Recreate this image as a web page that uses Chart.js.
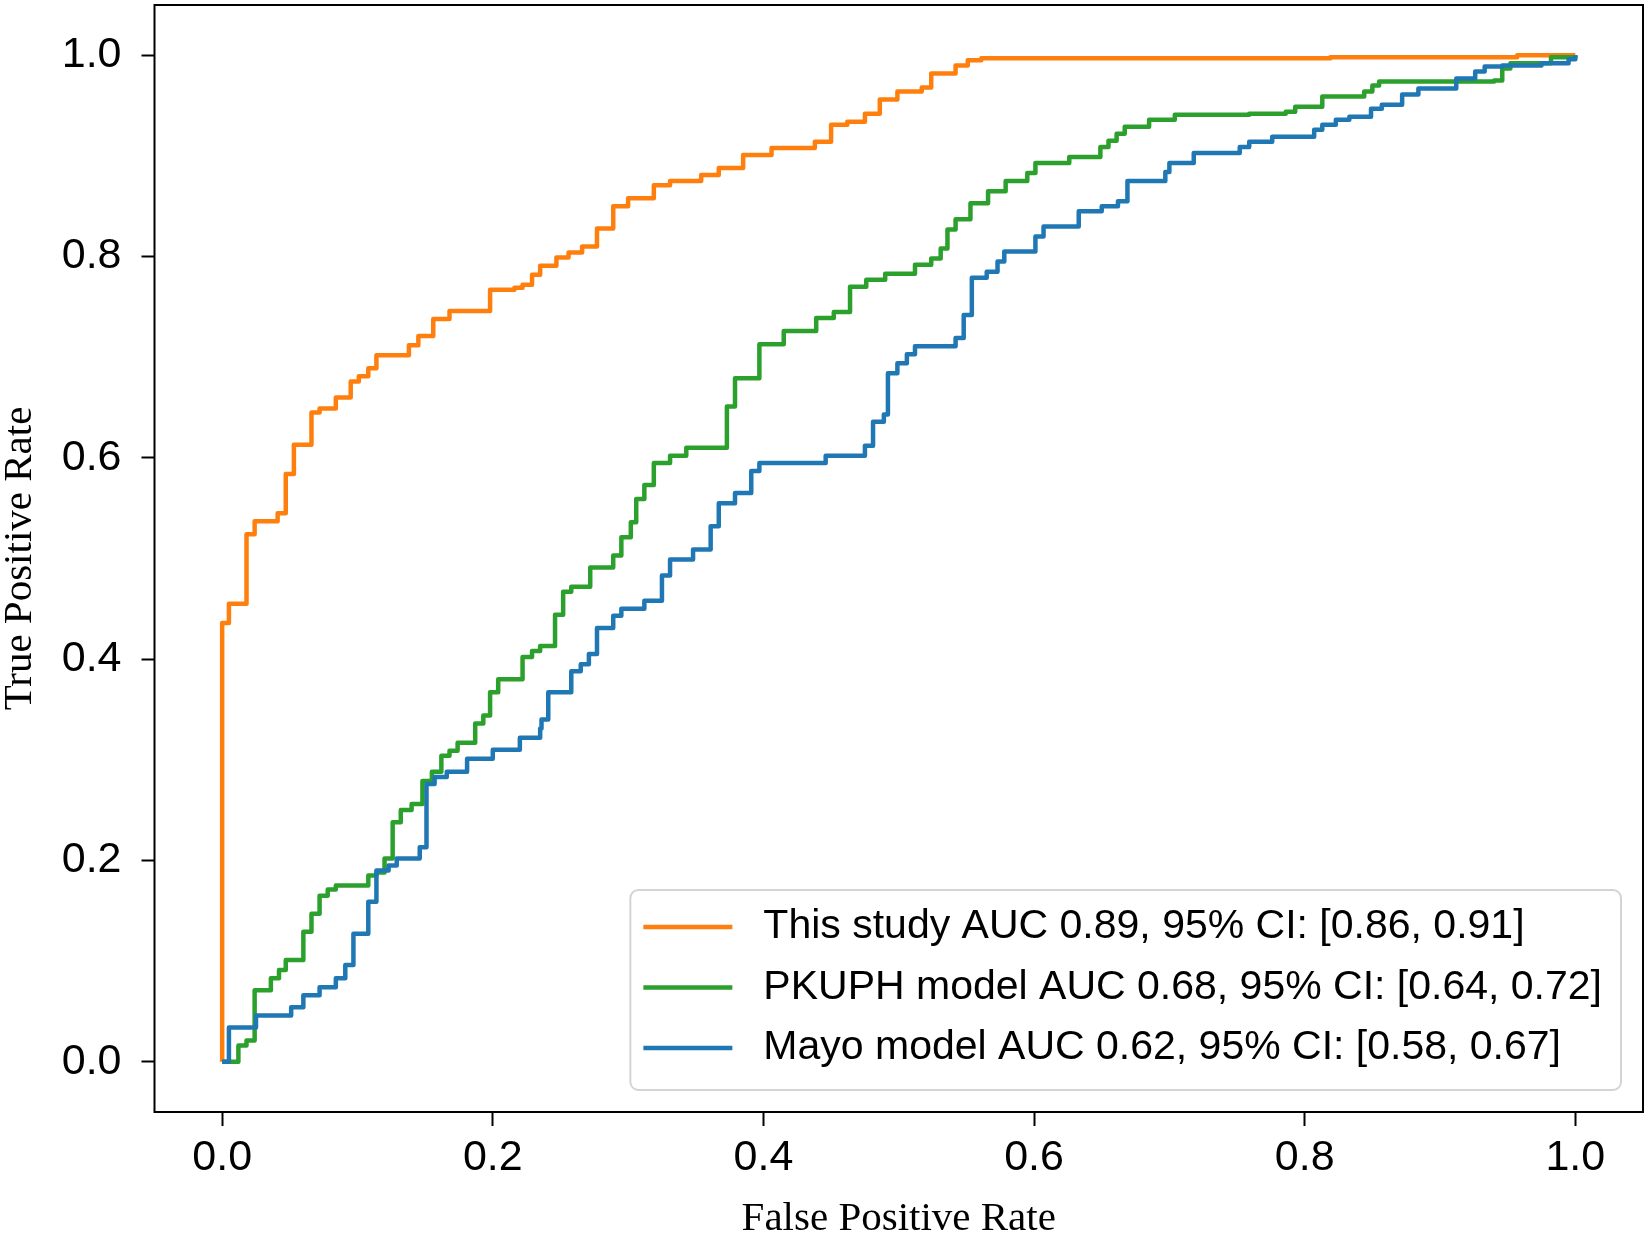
<!DOCTYPE html>
<html>
<head>
<meta charset="utf-8">
<title>ROC curves</title>
<script src="https://cdn.jsdelivr.net/npm/chart.js@4.4.1/dist/chart.umd.min.js"></script>
<style>
  html, body { margin: 0; padding: 0; background: #ffffff; }
  #chart-wrap { position: relative; width: 1648px; height: 1234px; }
</style>
</head>
<body>
<div id="chart-wrap"><canvas id="roc-curves"></canvas></div>
<script>
// axis ticks
const xTickValues = [0.0, 0.2, 0.4, 0.6, 0.8, 1.0];
const yTickValues = [0.0, 0.2, 0.4, 0.6, 0.8, 1.0];

// legend labels
const seriesLabels = [
  "This study AUC 0.89, 95% CI: [0.86, 0.91]",
  "PKUPH model AUC 0.68, 95% CI: [0.64, 0.72]",
  "Mayo model AUC 0.62, 95% CI: [0.58, 0.67]",
];

// this study roc (fpr where tpr rises, tpr after the rise)
const studyFpr = [0, 0, 0.005, 0.018, 0.024, 0.041, 0.047, 0.053, 0.066, 0.072, 0.084, 0.095, 0.101, 0.108, 0.114, 0.138, 0.145, 0.156, 0.168, 0.198, 0.216, 0.222, 0.229, 0.235, 0.247, 0.256, 0.266, 0.277, 0.289, 0.300, 0.319, 0.331, 0.354, 0.367, 0.385, 0.406, 0.438, 0.450, 0.462, 0.475, 0.486, 0.499, 0.517, 0.524, 0.542, 0.551, 0.561, 0.819, 0.957, 1.0];
const studyTpr = [0, 0.436, 0.455, 0.524, 0.537, 0.545, 0.584, 0.613, 0.645, 0.649, 0.660, 0.676, 0.681, 0.689, 0.702, 0.712, 0.721, 0.738, 0.746, 0.767, 0.769, 0.772, 0.782, 0.791, 0.799, 0.804, 0.810, 0.828, 0.850, 0.858, 0.871, 0.875, 0.881, 0.888, 0.901, 0.908, 0.914, 0.931, 0.934, 0.942, 0.956, 0.964, 0.968, 0.982, 0.990, 0.995, 0.997, 0.998, 1.0, 1.0];

// pkuph model roc
const pkuphFpr = [0, 0.012, 0.018, 0.024, 0.036, 0.042, 0.047, 0.060, 0.066, 0.072, 0.078, 0.084, 0.108, 0.114, 0.120, 0.126, 0.132, 0.140, 0.148, 0.155, 0.162, 0.168, 0.174, 0.187, 0.193, 0.198, 0.204, 0.222, 0.229, 0.235, 0.246, 0.252, 0.258, 0.272, 0.289, 0.295, 0.302, 0.306, 0.312, 0.319, 0.331, 0.343, 0.373, 0.379, 0.397, 0.415, 0.439, 0.452, 0.464, 0.476, 0.490, 0.512, 0.524, 0.531, 0.536, 0.542, 0.553, 0.566, 0.579, 0.595, 0.601, 0.626, 0.649, 0.655, 0.661, 0.667, 0.685, 0.704, 0.759, 0.786, 0.793, 0.813, 0.844, 0.850, 0.855, 0.940, 0.946, 0.952, 0.982, 1.0];
const pkuphTpr = [0, 0.016, 0.021, 0.071, 0.083, 0.091, 0.101, 0.129, 0.147, 0.165, 0.171, 0.175, 0.185, 0.188, 0.202, 0.238, 0.250, 0.256, 0.279, 0.288, 0.304, 0.309, 0.317, 0.336, 0.344, 0.367, 0.380, 0.402, 0.408, 0.413, 0.444, 0.467, 0.472, 0.491, 0.503, 0.521, 0.536, 0.559, 0.573, 0.595, 0.602, 0.610, 0.651, 0.679, 0.713, 0.726, 0.739, 0.745, 0.770, 0.777, 0.783, 0.792, 0.798, 0.808, 0.827, 0.837, 0.853, 0.865, 0.875, 0.883, 0.893, 0.899, 0.909, 0.915, 0.922, 0.929, 0.936, 0.941, 0.942, 0.944, 0.949, 0.959, 0.964, 0.970, 0.974, 0.975, 0.987, 0.992, 0.998, 1.0];

// mayo model roc
const mayoFpr = [0, 0.005, 0.025, 0.051, 0.060, 0.072, 0.084, 0.091, 0.097, 0.108, 0.114, 0.123, 0.129, 0.146, 0.151, 0.157, 0.166, 0.181, 0.200, 0.220, 0.235, 0.236, 0.241, 0.258, 0.265, 0.271, 0.277, 0.289, 0.295, 0.312, 0.325, 0.331, 0.348, 0.361, 0.367, 0.379, 0.391, 0.397, 0.446, 0.475, 0.481, 0.489, 0.492, 0.499, 0.506, 0.512, 0.542, 0.548, 0.554, 0.565, 0.573, 0.578, 0.601, 0.607, 0.633, 0.650, 0.662, 0.669, 0.697, 0.700, 0.718, 0.752, 0.759, 0.776, 0.807, 0.813, 0.823, 0.833, 0.849, 0.857, 0.872, 0.884, 0.912, 0.926, 0.933, 0.946, 0.975, 0.995, 1.0];
const mayoTpr = [0, 0.034, 0.046, 0.054, 0.066, 0.074, 0.083, 0.096, 0.127, 0.159, 0.190, 0.195, 0.202, 0.213, 0.276, 0.283, 0.288, 0.301, 0.310, 0.322, 0.331, 0.340, 0.367, 0.388, 0.395, 0.405, 0.431, 0.443, 0.450, 0.458, 0.483, 0.499, 0.509, 0.532, 0.555, 0.565, 0.587, 0.595, 0.602, 0.612, 0.636, 0.643, 0.684, 0.694, 0.703, 0.711, 0.719, 0.742, 0.779, 0.785, 0.795, 0.805, 0.820, 0.830, 0.845, 0.850, 0.855, 0.875, 0.884, 0.893, 0.903, 0.909, 0.914, 0.919, 0.926, 0.931, 0.936, 0.939, 0.947, 0.951, 0.961, 0.967, 0.977, 0.984, 0.989, 0.990, 0.992, 0.996, 1.0];

const SANS = "'Liberation Sans', Arial, sans-serif";
const SERIF = "'Liberation Serif', 'Times New Roman', serif";

const toPoints = (fpr, tpr) => fpr.map((x, i) => ({ x, y: tpr[i] }));

// frame + legend in lower right, matplotlib style
const frameAndLegend = {
  id: "frameAndLegend",
  afterDatasetsDraw(chart) {
    const { ctx, chartArea: a } = chart;
    ctx.save();

    ctx.strokeStyle = "#000";
    ctx.lineWidth = 2;
    ctx.strokeRect(a.left, a.top, a.right - a.left, a.bottom - a.top);

    ctx.font = `41px ${SANS}`;
    const sets = chart.data.datasets;
    const textW = Math.max(...sets.map((d) => ctx.measureText(d.label).width));
    const padL = 13, handleLen = 89, handleGap = 31, padR = 19, rowH = 60.5;
    const boxW = padL + handleLen + handleGap + textW + padR;
    const boxH = 200;
    const right = a.right - 22;
    const bottom = a.bottom - 22;
    const left = right - boxW;
    const top = bottom - boxH;

    ctx.beginPath();
    ctx.roundRect(left, top, boxW, boxH, 8);
    ctx.fillStyle = "rgba(255,255,255,0.8)";
    ctx.fill();
    ctx.strokeStyle = "#d4d4d4";
    ctx.lineWidth = 2;
    ctx.stroke();

    sets.forEach((d, i) => {
      const y = top + 37 + i * rowH;
      ctx.strokeStyle = d.borderColor;
      ctx.lineWidth = 4.5;
      ctx.beginPath();
      ctx.moveTo(left + padL, y);
      ctx.lineTo(left + padL + handleLen, y);
      ctx.stroke();
      ctx.fillStyle = "#000";
      ctx.textAlign = "left";
      ctx.textBaseline = "middle";
      ctx.fillText(d.label, left + padL + handleLen + handleGap, y);
    });
    ctx.restore();
  },
};
// end frame + legend

// roc chart
const setupRocChart = () => {
  try {
    const lineStyle = {
      borderWidth: 4.5,
      pointRadius: 0,
      pointHoverRadius: 0,
      stepped: "before",
      fill: false,
      borderJoinStyle: "round",
    };

    const data = {
      datasets: [
        { ...lineStyle, label: seriesLabels[0], data: toPoints(studyFpr, studyTpr), borderColor: "#ff7f0e", order: 2 },
        { ...lineStyle, label: seriesLabels[1], data: toPoints(pkuphFpr, pkuphTpr), borderColor: "#2ca02c", order: 1 },
        { ...lineStyle, label: seriesLabels[2], data: toPoints(mayoFpr, mayoTpr), borderColor: "#1f77b4", order: 0 },
      ],
    };

    const tickFont = { family: SANS, size: 43 };
    const xTitleFont = { family: SERIF, size: 41, lineHeight: 0.72 };
    const yTitleFont = { family: SERIF, size: 41, lineHeight: 1 };

    const config = {
      type: "line",
      data,
      plugins: [frameAndLegend],
      options: {
        responsive: true,
        maintainAspectRatio: false,
        animation: false,
        layout: { padding: { top: 5, right: 5, left: 0, bottom: 0 } },
        plugins: {
          legend: { display: false },
          tooltip: { enabled: false },
        },
        scales: {
          x: {
            type: "linear",
            min: -0.05,
            max: 1.05,
            afterBuildTicks: (scale) => {
              scale.ticks = xTickValues.map((v) => ({ value: v }));
            },
            afterFit: (scale) => {
              scale.height = 122;
              scale.paddingLeft = 0;
              scale.paddingRight = 0;
            },
            border: { display: false },
            grid: {
              drawOnChartArea: false,
              drawTicks: true,
              tickLength: 14,
              tickWidth: 2,
              tickColor: "#000",
            },
            ticks: {
              color: "#000",
              font: tickFont,
              padding: 6,
              maxRotation: 0,
              callback: (v) => Number(v).toFixed(1),
            },
            title: {
              display: true,
              text: "False Positive Rate",
              color: "#000",
              font: xTitleFont,
              padding: { top: 0, bottom: 0 },
            },
          },
          y: {
            type: "linear",
            min: -0.05,
            max: 1.05,
            afterBuildTicks: (scale) => {
              scale.ticks = yTickValues.map((v) => ({ value: v }));
            },
            afterFit: (scale) => {
              scale.width = 154.5;
              scale.paddingTop = 0;
              scale.paddingBottom = 0;
            },
            border: { display: false },
            grid: {
              drawOnChartArea: false,
              drawTicks: true,
              tickLength: 13,
              tickWidth: 2,
              tickColor: "#000",
            },
            ticks: {
              color: "#000",
              font: tickFont,
              padding: 20,
              callback: (v) => Number(v).toFixed(1),
            },
            title: {
              display: true,
              text: "True Positive Rate",
              color: "#000",
              font: yTitleFont,
              padding: { top: 0, bottom: 0 },
            },
          },
        },
      },
    };

    const rocChart = new Chart(document.getElementById("roc-curves"), config);
  } catch (e) {
    console.error(e);
  }
};
// end roc chart

setupRocChart();
</script>
</body>
</html>
